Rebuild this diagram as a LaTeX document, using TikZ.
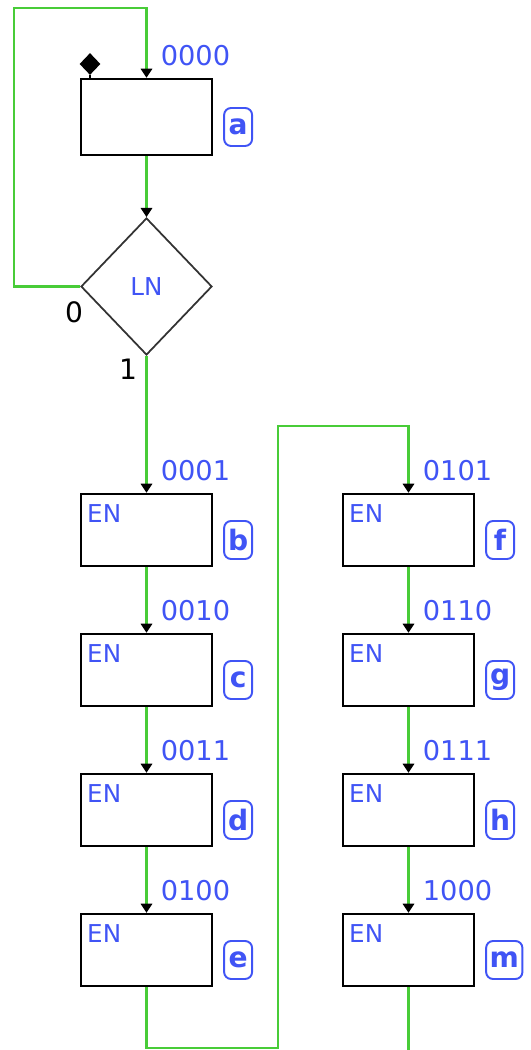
\documentclass[tikz,border=0pt]{standalone}
\usepackage{fontspec}
\setmainfont{DejaVu Sans}
\usetikzlibrary{arrows.meta,calc,shapes.geometric}

\definecolor{wiregreen}{RGB}{72,204,56}
\definecolor{codeblue}{RGB}{64,84,245}

\begin{document}
\begin{tikzpicture}[
  font=\fontsize{14}{16}\selectfont,
  >={Triangle[width=6.4pt,length=5.2pt,color=black,fill=black]},
  stepbox/.style={draw=black, line width=1.3pt, minimum width=2.62cm, minimum height=1.44cm, inner sep=0pt},
  test/.style={diamond, draw=black!80, line width=1pt, minimum width=2.62cm, minimum height=2.74cm, inner sep=0pt, aspect=.96, text=codeblue},
  flow/.style={wiregreen, line width=1.4pt},
  code/.style={text=codeblue, anchor=west, inner sep=0pt, font=\fontsize{15.5}{17}\selectfont},
  tag/.style={draw=codeblue, text=codeblue, line width=1.1pt, rounded corners=4pt, minimum width=.56cm, minimum height=.76cm, inner xsep=2pt, anchor=west, font=\bfseries\fontsize{16}{18}\selectfont},
  enlabel/.style={text=codeblue, anchor=north west, inner sep=0pt},
  initmark/.style={diamond, fill=black, minimum width=.42cm, minimum height=.44cm, inner sep=0pt},
  branch/.style={font=\fontsize{16}{18}\selectfont, inner sep=0pt}
]
\useasboundingbox (0,0) rectangle (10.62,21);

\node[stepbox, minimum height=1.52cm] (a) at (2.93,18.66) {};
\node[test] (ln) at (2.93,15.27) {LN};
\node[initmark] (init) at (1.8,19.72) {};
\draw[line width=1.2pt] (init.south) -- (init.south |- a.north);

\foreach \n/\x/\y in {b/2.93/10.4, c/2.93/7.6, d/2.93/4.8, e/2.93/2.0,
                      f/8.17/10.4, g/8.17/7.6, h/8.17/4.8, m/8.17/2.0}
{
  \node[stepbox] (\n) at (\x,\y) {};
  \node[enlabel] (en\n) at ($(\n.north west)+(.14,-.22)$) {EN};
}

\foreach \n/\t in {a/0000, b/0001, c/0010, d/0011, e/0100, f/0101, g/0110, h/0111, m/1000}
{
  \node[code] (code\n) at ($(\n.north)+(.28,.45)$) {\t};
  \node[tag] (tag\n) at ($(\n.east)+(.2,-.2)$) {\n};
}

\node[branch] (no) at (1.48,14.76) {0};
\node[branch] (yes) at (2.56,13.62) {1};

\draw[flow,->] (a.south) -- (ln.north);
\draw[flow,->] (ln.south) -- (b.north);
\foreach \p/\q in {b/c, c/d, d/e, f/g, g/h, h/m}
  \draw[flow,->] (\p.south) -- (\q.north);

\coordinate (backtop) at (0.28,20.84);
\draw[flow,->] (ln.west) -| (backtop) -| (a.north);

\coordinate (jumpbot) at (5.56,0.04);
\coordinate (jumptop) at (5.56,12.48);
\draw[flow,->] (e.south) |- (jumpbot) -- (jumptop) -| (f.north);

\coordinate (mout) at (8.17,0);
\draw[flow] (m.south) -- (mout);

\end{tikzpicture}
\end{document}
